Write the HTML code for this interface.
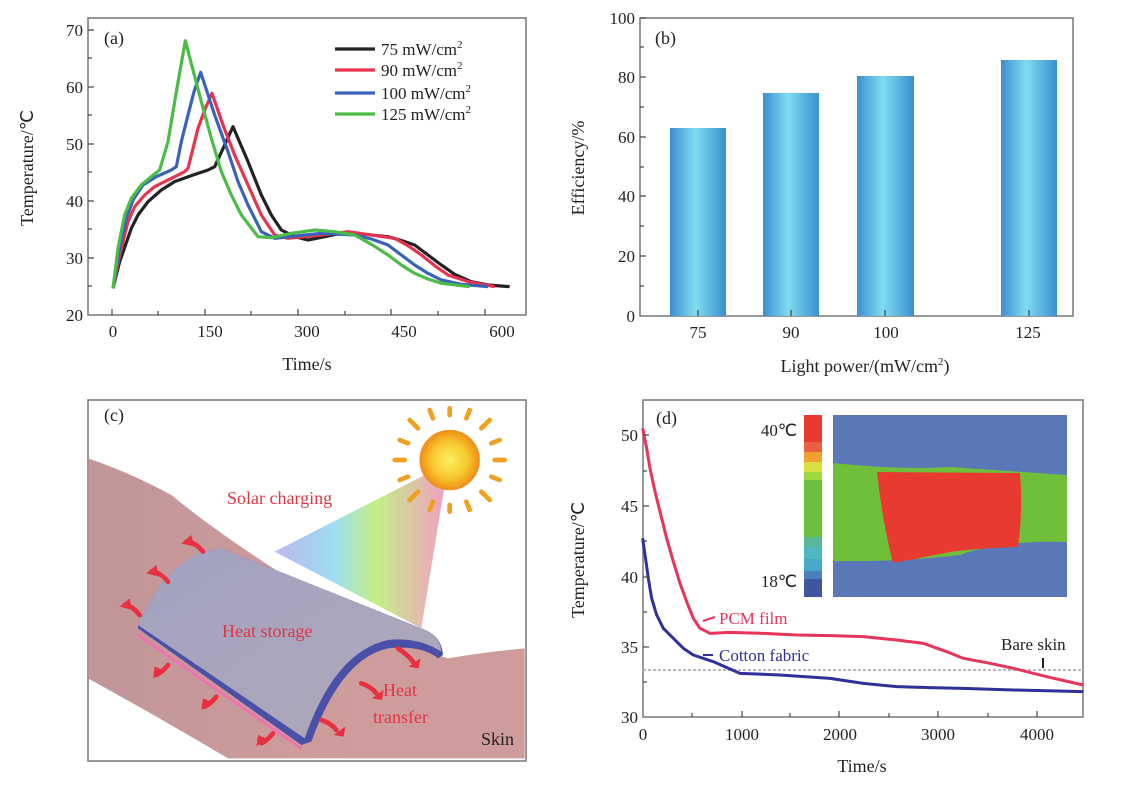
<!DOCTYPE html>
<html><head><meta charset="utf-8"><style>
html,body{margin:0;padding:0;background:#fff;}
svg{display:block;font-family:"Liberation Serif",serif;}
</style></head><body>
<svg width="1126" height="797" viewBox="0 0 1126 797" xmlns="http://www.w3.org/2000/svg">
<defs>
<linearGradient id="bar" x1="0" x2="1" y1="0" y2="0">
<stop offset="0" stop-color="#3b8fd0"/><stop offset="0.45" stop-color="#7fdcf0"/><stop offset="1" stop-color="#3a8fd0"/>
</linearGradient>
<linearGradient id="beam" x1="0" y1="0" x2="1" y2="0">
<stop offset="0" stop-color="#8f8fe0" stop-opacity="0.7"/><stop offset="0.35" stop-color="#8cd8f0"/><stop offset="0.6" stop-color="#b8ec70"/><stop offset="1" stop-color="#f090b8"/>
</linearGradient>
<linearGradient id="arm" x1="0" y1="0" x2="1" y2="0">
<stop offset="0" stop-color="#b98a8c"/><stop offset="0.5" stop-color="#c99090"/><stop offset="1" stop-color="#c89290"/>
</linearGradient>
<radialGradient id="sun"><stop offset="0" stop-color="#f8f060"/><stop offset="0.6" stop-color="#f8c830"/><stop offset="1" stop-color="#f09018"/></radialGradient>
<linearGradient id="film" x1="0" y1="0" x2="1" y2="1"><stop offset="0" stop-color="#a2a2c0"/><stop offset="1" stop-color="#b0a8b8"/></linearGradient>
</defs>

<!-- ===== Panel (a) ===== -->
<rect x="88" y="18" width="438" height="297" fill="none" stroke="#777" stroke-width="1.5"/>
<g stroke="#444" stroke-width="1.2">
<line x1="88" y1="30" x2="94" y2="30"/><line x1="88" y1="58" x2="92" y2="58"/><line x1="88" y1="87" x2="94" y2="87"/><line x1="88" y1="115" x2="92" y2="115"/><line x1="88" y1="144" x2="94" y2="144"/><line x1="88" y1="172" x2="92" y2="172"/><line x1="88" y1="201" x2="94" y2="201"/><line x1="88" y1="229" x2="92" y2="229"/><line x1="88" y1="258" x2="94" y2="258"/><line x1="88" y1="286" x2="92" y2="286"/>
<line x1="112" y1="315" x2="112" y2="309"/><line x1="158" y1="315" x2="158" y2="311"/><line x1="205" y1="315" x2="205" y2="309"/><line x1="251" y1="315" x2="251" y2="311"/><line x1="298" y1="315" x2="298" y2="309"/><line x1="345" y1="315" x2="345" y2="311"/><line x1="391" y1="315" x2="391" y2="309"/><line x1="438" y1="315" x2="438" y2="311"/><line x1="485" y1="315" x2="485" y2="309"/>
</g>
<g font-size="17" fill="#222" text-anchor="end">
<text x="83" y="36">70</text><text x="83" y="93">60</text><text x="83" y="150">50</text><text x="83" y="207">40</text><text x="83" y="264">30</text><text x="83" y="321">20</text>
</g>
<g font-size="17" fill="#222" text-anchor="middle">
<text x="113" y="337">0</text><text x="210" y="337">150</text><text x="307" y="337">300</text><text x="404" y="337">450</text><text x="502" y="337">600</text>
</g>
<text x="307" y="370" font-size="18" text-anchor="middle" fill="#222">Time/s</text>
<text transform="translate(33,168) rotate(-90)" font-size="18" text-anchor="middle" fill="#222">Temperature/℃</text>
<text x="104" y="44" font-size="18" fill="#222">(a)</text>
<g transform="translate(88,15) scale(0.33333)" fill="none" stroke-width="3.2" stroke-linejoin="round">
<polyline vector-effect="non-scaling-stroke" stroke="#222" points="75,820 95,740 130,640 150,600 180,560 220,525 260,500 310,482 360,465 380,455 410,390 435,335 480,440 520,540 550,600 580,645 620,665 660,675 710,665 760,655 830,658 900,665 945,678 980,690 1020,720 1060,750 1100,778 1150,800 1200,810 1265,815"/>
<polyline vector-effect="non-scaling-stroke" stroke="#e8334f" points="75,820 95,720 120,620 140,575 170,540 200,515 230,500 260,485 290,470 300,460 315,400 330,340 350,285 372,235 405,330 440,420 480,510 520,600 560,660 600,670 650,665 700,660 780,650 850,660 920,670 960,692 1000,720 1040,752 1080,780 1140,800 1220,815"/>
<polyline vector-effect="non-scaling-stroke" stroke="#3a62b8" points="75,820 95,700 115,610 135,555 165,510 205,485 250,465 265,455 280,380 300,300 318,230 338,172 380,300 420,410 450,500 480,570 520,650 560,670 630,662 700,655 800,660 850,672 900,690 940,720 980,750 1020,775 1060,795 1120,808 1200,815"/>
<polyline vector-effect="non-scaling-stroke" stroke="#4cbc48" points="75,820 90,700 110,600 130,550 160,510 190,485 215,465 240,380 265,230 292,77 315,165 340,260 370,370 400,470 430,540 460,600 510,665 550,668 610,655 680,645 740,650 800,660 850,688 900,720 940,750 980,775 1020,792 1060,805 1145,815"/>
</g>
<g stroke-width="3.2">
<line x1="335" y1="49" x2="375" y2="49" stroke="#222"/>
<line x1="335" y1="70" x2="375" y2="70" stroke="#e8334f"/>
<line x1="335" y1="93" x2="375" y2="93" stroke="#3a62b8"/>
<line x1="335" y1="114" x2="375" y2="114" stroke="#4cbc48"/>
</g>
<g font-size="17" fill="#222">
<text x="381" y="55">75 mW/cm<tspan font-size="11" dy="-7">2</tspan></text>
<text x="381" y="76">90 mW/cm<tspan font-size="11" dy="-7">2</tspan></text>
<text x="381" y="99">100 mW/cm<tspan font-size="11" dy="-7">2</tspan></text>
<text x="381" y="120">125 mW/cm<tspan font-size="11" dy="-7">2</tspan></text>
</g>

<!-- ===== Panel (b) ===== -->
<rect x="640" y="18" width="433" height="298" fill="none" stroke="#777" stroke-width="1.5"/>
<rect x="670" y="128" width="56" height="188" fill="url(#bar)"/>
<rect x="763" y="93" width="56" height="223" fill="url(#bar)"/>
<rect x="857" y="76" width="57" height="240" fill="url(#bar)"/>
<rect x="1001" y="60" width="56" height="256" fill="url(#bar)"/>
<g stroke="#444" stroke-width="1.2">
<line x1="640" y1="18" x2="646" y2="18"/><line x1="640" y1="77" x2="646" y2="77"/><line x1="640" y1="137" x2="646" y2="137"/><line x1="640" y1="196" x2="646" y2="196"/><line x1="640" y1="256" x2="646" y2="256"/>
<line x1="640" y1="47" x2="644" y2="47"/><line x1="640" y1="107" x2="644" y2="107"/><line x1="640" y1="167" x2="644" y2="167"/><line x1="640" y1="226" x2="644" y2="226"/><line x1="640" y1="286" x2="644" y2="286"/>
<line x1="698" y1="316" x2="698" y2="310"/><line x1="791" y1="316" x2="791" y2="310"/><line x1="885" y1="316" x2="885" y2="310"/><line x1="1029" y1="316" x2="1029" y2="310"/>
</g>
<g font-size="17" fill="#222" text-anchor="end">
<text x="635" y="24">100</text><text x="635" y="83">80</text><text x="635" y="143">60</text><text x="635" y="202">40</text><text x="635" y="262">20</text><text x="635" y="322">0</text>
</g>
<g font-size="17" fill="#222" text-anchor="middle">
<text x="698" y="338">75</text><text x="791" y="338">90</text><text x="886" y="338">100</text><text x="1028" y="338">125</text>
</g>
<text x="865" y="372" font-size="18" text-anchor="middle" fill="#222">Light power/(mW/cm<tspan font-size="11" dy="-7">2</tspan><tspan dy="7">)</tspan></text>
<text transform="translate(584,168) rotate(-90)" font-size="18" text-anchor="middle" fill="#222">Efficiency/%</text>
<text x="655" y="44" font-size="18" fill="#222">(b)</text>

<!-- ===== Panel (c) ===== -->
<rect x="88" y="400" width="438" height="361" fill="#fff" stroke="#777" stroke-width="1.5"/>
<g transform="translate(88,395) scale(0.33333)">
<path d="M0,190 Q120,230 250,300 Q420,440 700,610 Q900,740 1080,790 Q1200,770 1310,760 L1310,1090 L420,1090 Q200,960 0,850 Z" fill="url(#arm)" opacity="0.9"/>
<polygon points="1010,240 1070,270 1000,700 560,470" fill="url(#beam)" opacity="0.85"/>
<g stroke="#f0a020" stroke-width="14" stroke-linecap="round">
<line x1="1085" y1="60" x2="1085" y2="40"/><line x1="1085" y1="330" x2="1085" y2="350"/><line x1="950" y1="195" x2="920" y2="195"/><line x1="1220" y1="195" x2="1250" y2="195"/>
<line x1="990" y1="100" x2="965" y2="75"/><line x1="1180" y1="100" x2="1205" y2="75"/><line x1="990" y1="290" x2="965" y2="315"/><line x1="1180" y1="290" x2="1205" y2="315"/>
<line x1="1035" y1="70" x2="1025" y2="45"/><line x1="1135" y1="70" x2="1145" y2="45"/><line x1="1035" y1="320" x2="1025" y2="345"/><line x1="1135" y1="320" x2="1145" y2="345"/>
<line x1="960" y1="145" x2="935" y2="135"/><line x1="1210" y1="145" x2="1235" y2="135"/><line x1="960" y1="245" x2="935" y2="255"/><line x1="1210" y1="245" x2="1235" y2="255"/>
</g>
<circle cx="1085" cy="195" r="88" fill="url(#sun)" stroke="#f09020" stroke-width="5"/>
<path d="M150,700 L640,1050 L670,1040 Q760,790 900,760 Q1000,750 1050,790 L1065,780 Q1060,720 1000,700 L400,460 Q250,470 150,690 Z" fill="#4a50a8"/>
<path d="M150,720 L640,1060" stroke="#f070b0" stroke-width="8" fill="none"/>
<path d="M150,690 Q250,470 400,460 L1000,700 Q1055,720 1060,770 Q990,725 900,735 Q740,770 650,1030 L150,690 Z" fill="url(#film)"/>
<g stroke="#e83040" stroke-width="14" fill="none" stroke-linecap="round">
<path d="M345,470 Q320,440 295,440"/><path d="M240,560 Q215,530 190,530"/><path d="M155,660 Q130,630 110,630"/>
<path d="M240,810 Q225,830 205,840"/><path d="M385,905 Q370,925 350,935"/><path d="M555,1015 Q540,1035 520,1045"/>
<path d="M930,760 Q960,780 975,800"/><path d="M820,865 Q850,875 865,895"/><path d="M700,975 Q730,985 745,1005"/>
</g>
<g fill="#e83040">
<polygon points="280,445 310,420 318,455"/><polygon points="175,535 205,510 213,545"/><polygon points="95,635 125,610 132,645"/>
<polygon points="195,850 225,825 200,815"/><polygon points="340,945 370,920 345,910"/><polygon points="505,1055 535,1030 510,1020"/>
<polygon points="962,815 997,790 992,820"/><polygon points="852,910 887,885 882,915"/><polygon points="737,1020 772,995 767,1025"/>
</g>
</g>
<g font-size="18" fill="#e03545">
<text x="227" y="504">Solar charging</text>
<text x="222" y="637">Heat storage</text>
<text x="383" y="696">Heat</text>
<text x="373" y="723">transfer</text>
</g>
<text x="481" y="745" font-size="18" fill="#222">Skin</text>
<text x="104" y="421" font-size="18" fill="#222">(c)</text>

<!-- ===== Panel (d) ===== -->
<rect x="643" y="400" width="440" height="317" fill="none" stroke="#777" stroke-width="1.5"/>
<rect x="804" y="415" width="18" height="27" fill="#e83a30"/>
<rect x="804" y="442" width="18" height="10" fill="#e86040"/>
<rect x="804" y="452" width="18" height="10" fill="#f0a030"/>
<rect x="804" y="462" width="18" height="10" fill="#d8e040"/>
<rect x="804" y="472" width="18" height="8" fill="#a0d840"/>
<rect x="804" y="480" width="18" height="57" fill="#6cc03c"/>
<rect x="804" y="537" width="18" height="10" fill="#58b898"/>
<rect x="804" y="547" width="18" height="12" fill="#50b8c0"/>
<rect x="804" y="559" width="18" height="12" fill="#48a8c8"/>
<rect x="804" y="571" width="18" height="8" fill="#4a80c0"/>
<rect x="804" y="579" width="18" height="18" fill="#3f55a0"/>
<rect x="833" y="415" width="234" height="182" fill="#5a78b8"/>
<path d="M833,463 Q900,470 950,467 L1067,475 L1067,542 Q1000,540 960,555 Q900,562 833,561 Z" fill="#70bf3a"/>
<path d="M877,472 L1020,473 Q1023,510 1018,547 Q980,548 950,552 Q910,560 893,563 Q882,520 877,472 Z" fill="#e83a30"/>
<g font-size="17" fill="#222" text-anchor="end">
<text x="797" y="436">40℃</text><text x="797" y="587">18℃</text>
</g>
<line x1="643" y1="670" x2="1083" y2="670" stroke="#b8b8c0" stroke-width="2" stroke-dasharray="3,2"/>
<g transform="translate(630,395) scale(0.33333)" fill="none" stroke-width="3" stroke-linejoin="round">
<polyline vector-effect="non-scaling-stroke" stroke="#e8335a" points="38,100 50,160 60,220 75,290 90,350 110,430 130,500 150,565 170,620 190,670 210,700 240,715 300,712 400,715 500,720 600,722 700,725 800,735 880,745 950,770 1000,790 1080,805 1150,820 1250,845 1360,870"/>
<polyline vector-effect="non-scaling-stroke" stroke="#30309a" points="38,430 48,500 55,550 65,610 80,660 100,700 130,730 160,760 190,780 250,800 330,835 450,840 600,850 700,865 800,875 900,878 1000,880 1150,885 1360,890"/>
</g>
<g stroke-width="2" fill="none">
<path d="M703,621 L715,617" stroke="#e8335a"/>
<path d="M703,655 L713,655" stroke="#30309a"/>
<path d="M1043,658 L1043,668" stroke="#222"/>
</g>
<text x="719" y="624" font-size="17" fill="#e8335a">PCM film</text>
<text x="719" y="661" font-size="17" fill="#30309a">Cotton fabric</text>
<text x="1001" y="650" font-size="17" fill="#222">Bare skin</text>
<g stroke="#444" stroke-width="1.2">
<line x1="643" y1="435" x2="649" y2="435"/><line x1="643" y1="506" x2="649" y2="506"/><line x1="643" y1="577" x2="649" y2="577"/><line x1="643" y1="647" x2="649" y2="647"/>
<line x1="643" y1="471" x2="647" y2="471"/><line x1="643" y1="541" x2="647" y2="541"/><line x1="643" y1="612" x2="647" y2="612"/><line x1="643" y1="682" x2="647" y2="682"/>
<line x1="742" y1="717" x2="742" y2="711"/><line x1="839" y1="717" x2="839" y2="711"/><line x1="938" y1="717" x2="938" y2="711"/><line x1="1037" y1="717" x2="1037" y2="711"/>
<line x1="692" y1="717" x2="692" y2="713"/><line x1="790" y1="717" x2="790" y2="713"/><line x1="889" y1="717" x2="889" y2="713"/><line x1="988" y1="717" x2="988" y2="713"/>
</g>
<g font-size="17" fill="#222" text-anchor="end">
<text x="638" y="441">50</text><text x="638" y="512">45</text><text x="638" y="583">40</text><text x="638" y="653">35</text><text x="638" y="723">30</text>
</g>
<g font-size="17" fill="#222" text-anchor="middle">
<text x="643" y="740">0</text><text x="742" y="740">1000</text><text x="840" y="740">2000</text><text x="938" y="740">3000</text><text x="1037" y="740">4000</text>
</g>
<text x="862" y="772" font-size="18" text-anchor="middle" fill="#222">Time/s</text>
<text transform="translate(584,560) rotate(-90)" font-size="18" text-anchor="middle" fill="#222">Temperature/℃</text>
<text x="656" y="424" font-size="18" fill="#222">(d)</text>
</svg>
</body></html>
